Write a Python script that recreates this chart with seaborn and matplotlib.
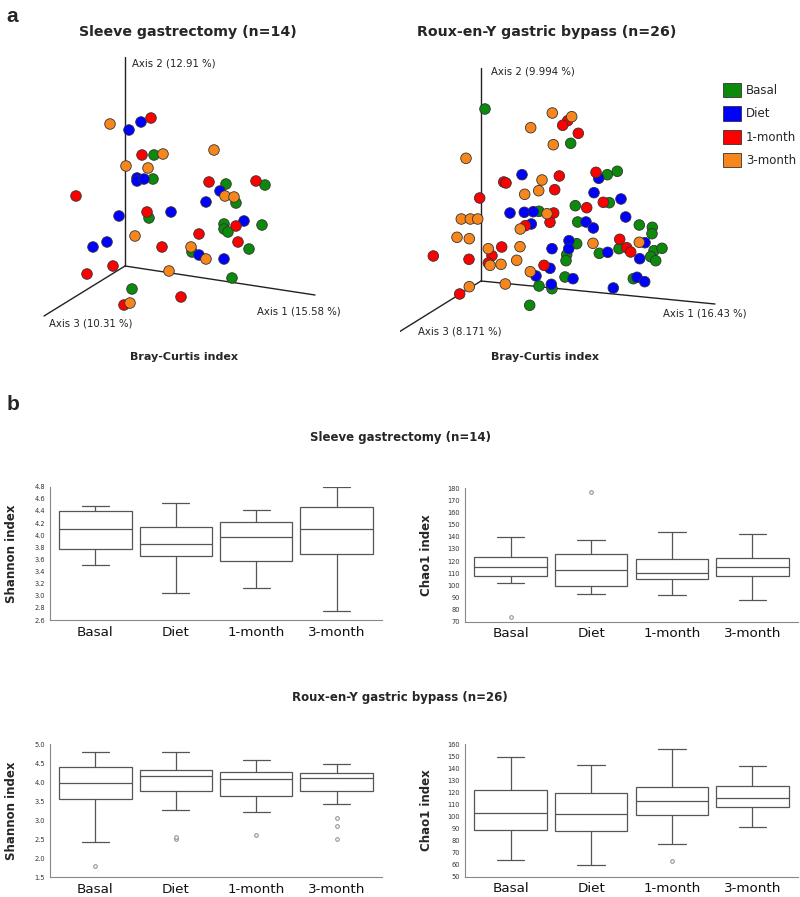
import pandas as pd
import seaborn as sns
import matplotlib.pyplot as plt
from matplotlib.patches import Patch

W, H = 800, 897

groups = ['Basal', 'Diet', '1-month', '3-month']
palette = ['#0b8a0b', '#0000ff', '#ff0000', '#f7871c']

# PCoA (Bray-Curtis), projected positions
sg_points = {
    'Basal': [(154, 155), (153, 179), (226, 184), (265, 185), (236, 203), (149, 218), (224, 224),
              (224, 229), (228, 232), (262, 225), (249, 249), (192, 252), (232, 278), (132, 289)],
    'Diet': [(129, 130), (141, 122), (137, 178), (137, 181), (144, 179), (220, 191), (206, 202),
             (119, 216), (171, 212), (244, 221), (107, 242), (93, 247), (199, 255), (224, 259)],
    '1-month': [(151, 118), (142, 155), (76, 196), (209, 182), (256, 181), (147, 212), (236, 226),
                (199, 234), (238, 242), (162, 247), (113, 266), (87, 274), (181, 297), (124, 305)],
    '3-month': [(110, 124), (163, 154), (214, 150), (126, 166), (148, 168), (225, 196), (234, 197),
                (135, 236), (191, 247), (206, 259), (169, 271), (130, 303)],
}
rygb_points = {
    'Basal': [(485.0, 109.0), (570.7, 143.3), (607.3, 174.7), (617.3, 171.3), (609.3, 202.7),
              (575.3, 205.7), (539.0, 211.3), (577.7, 222.0), (639.3, 225.0), (652.3, 227.3),
              (652.0, 233.7), (576.7, 243.7), (619.0, 248.7), (599.3, 253.3), (654.0, 250.7),
              (662.0, 248.3), (650.7, 256.7), (655.7, 260.7), (566.7, 254.7), (566.0, 260.7),
              (565.0, 277.0), (633.3, 278.7), (539.0, 286.0), (552.0, 288.7), (529.7, 305.3)],
    'Diet': [(522.0, 174.7), (598.7, 178.3), (594.0, 192.7), (621.0, 199.0), (510.0, 213.0),
             (524.3, 212.3), (533.3, 211.7), (625.7, 217.0), (586.0, 222.0), (531.3, 224.0),
             (593.3, 228.0), (645.0, 242.7), (569.0, 240.7), (552.0, 248.7), (568.7, 248.7),
             (607.7, 252.3), (639.7, 258.7), (550.0, 268.3), (536.0, 276.0), (573.0, 278.7),
             (637.0, 277.3), (644.7, 281.7), (551.3, 284.3), (613.3, 288.0)],
    '1-month': [(567.7, 120.7), (562.7, 125.3), (578.3, 133.3), (559.3, 176.0), (596.0, 172.3),
                (503.7, 182.0), (506.0, 183.0), (554.7, 189.7), (479.7, 198.0), (603.3, 202.3),
                (586.7, 207.7), (553.7, 213.0), (525.3, 225.7), (550.0, 222.3), (619.7, 239.3),
                (501.7, 247.0), (626.7, 247.7), (630.7, 252.0), (433.3, 256.0), (469.0, 259.3),
                (492.0, 255.7), (488.3, 263.0), (544.0, 265.3), (459.7, 294.0)],
    '3-month': [(552.3, 113.0), (571.7, 116.7), (530.7, 127.7), (553.3, 144.7), (466.0, 158.3),
                (542.0, 180.0), (538.7, 190.7), (524.7, 194.3), (547.0, 213.7), (461.3, 219.0),
                (470.3, 219.0), (477.7, 219.0), (520.3, 229.0), (457.0, 237.3), (469.3, 238.7),
                (639.3, 242.3), (593.0, 243.3), (488.3, 248.7), (520.0, 246.7), (490.0, 265.3),
                (501.0, 264.3), (516.7, 260.3), (530.3, 271.7), (469.3, 286.7), (505.3, 284.0)],
}
# 3D axis frame: origin, axis1 end, axis2 end, axis3 end
sg_frame = [(125, 266), (315, 295), (125, 57), (44, 316)]
rygb_frame = [(481, 281), (715, 304), (481, 68), (399, 332)]
sg_axis_labels = ['Axis 1 (15.58 %)', 'Axis 2 (12.91 %)', 'Axis 3 (10.31 %)']
rygb_axis_labels = ['Axis 1 (16.43 %)', 'Axis 2 (9.994 %)', 'Axis 3 (8.171 %)']

# box stats: whisker low, q1, median, q3, whisker high
sg_shannon = [[3.50, 3.78, 4.11, 4.40, 4.48], [3.04, 3.66, 3.85, 4.14, 4.53],
              [3.12, 3.58, 3.97, 4.21, 4.42], [2.75, 3.69, 4.10, 4.47, 4.80]]
sg_shannon_fliers = [[], [], [], []]
sg_chao1 = [[102, 108, 115.5, 123.5, 140], [93, 99.5, 112.5, 125.5, 137.5],
            [92, 105, 110, 121.5, 144], [87.5, 107.5, 115.5, 122.5, 142.5]]
sg_chao1_fliers = [[74], [177], [], []]
rygb_shannon = [[2.44, 3.55, 3.97, 4.40, 4.81], [3.28, 3.76, 4.17, 4.33, 4.81],
                [3.22, 3.64, 4.08, 4.26, 4.58], [3.43, 3.78, 4.11, 4.24, 4.48]]
rygb_shannon_fliers = [[1.80], [2.52, 2.56], [2.62], [3.06, 2.85, 2.50]]
rygb_chao1 = [[64, 89, 103, 121.5, 149], [59.5, 87.5, 102, 119, 142.5],
              [77, 101.5, 112.5, 124.5, 155.5], [91, 107.5, 115, 125.5, 141.5]]
rygb_chao1_fliers = [[], [], [63], []]


def px(x, y):
    return x / W, 1 - y / H


def to_frame(points):
    rows = []
    for g in groups:
        for x, y in points[g]:
            rows.append({'x': x, 'y': y, 'group': g})
    return pd.DataFrame(rows)


sns.set_theme(style='white')
plt.rcParams['font.family'] = ['DejaVu Sans']
fig = plt.figure(figsize=(W / 100, H / 100), dpi=100)


def pcoa_panel(rect, xlim, points, frame, labels, label_pos):
    ax = fig.add_axes(rect)
    ox, oy = frame[0]
    for ex, ey in frame[1:]:
        ax.plot([ox, ex], [oy, ey], color='#222222', lw=1.0, zorder=1)
    sns.scatterplot(data=to_frame(points), x='x', y='y', hue='group', hue_order=groups,
                    palette=palette, s=58, edgecolor='#333333', linewidth=0.6,
                    legend=False, ax=ax, zorder=3)
    for txt, (tx, ty) in zip(labels, label_pos):
        ax.text(tx, ty, txt, fontsize=7.3, color='#222222', ha='left', va='center')
    ax.set_xlim(*xlim)
    ax.set_ylim(345, 40)
    ax.axis('off')
    return ax


pcoa_panel([0, 1 - 345 / H, 0.5, 305 / H], (0, 400), sg_points, sg_frame,
           sg_axis_labels, [(257, 311), (132, 63), (49, 323)])
ax_r = pcoa_panel([0.5, 1 - 345 / H, 0.5, 305 / H], (400, 800), rygb_points, rygb_frame,
                  rygb_axis_labels, [(663, 314), (491, 72), (418, 331)])

handles = [Patch(facecolor=c, edgecolor='#333333', lw=0.6) for c in palette]
fig.legend(handles, groups, loc='upper left', bbox_to_anchor=px(723, 83), frameon=False,
           fontsize=8.5, handlelength=1.5, handleheight=1.5, labelspacing=0.75,
           handletextpad=0.45, borderpad=0, borderaxespad=0)

fig.text(*px(188, 32), 'Sleeve gastrectomy (n=14)', fontsize=10.2, fontweight='bold',
         ha='center', va='center')
fig.text(*px(547, 32), 'Roux-en-Y gastric bypass (n=26)', fontsize=10.2, fontweight='bold',
         ha='center', va='center')
fig.text(*px(184, 357), 'Bray-Curtis index', fontsize=8, fontweight='bold', ha='center', va='center')
fig.text(*px(545, 357), 'Bray-Curtis index', fontsize=8, fontweight='bold', ha='center', va='center')
fig.text(*px(12, 16), 'a', fontsize=15, fontweight='bold', ha='center', va='center',
         family='Liberation Sans')
fig.text(*px(13, 405), 'b', fontsize=15, fontweight='bold', ha='center', va='center',
         family='Liberation Sans')
fig.text(*px(400, 437), 'Sleeve gastrectomy (n=14)', fontsize=8.5, fontweight='bold',
         ha='center', va='center')
fig.text(*px(400, 697), 'Roux-en-Y gastric bypass (n=26)', fontsize=8.5, fontweight='bold',
         ha='center', va='center')


def box_panel(rect, stats, fliers, ylim, yticks, fmt, ylabel):
    ax = fig.add_axes(rect)
    bxp_stats = []
    for g, (lo, q1, med, q3, hi), fl in zip(groups, stats, fliers):
        bxp_stats.append({'label': g, 'whislo': lo, 'q1': q1, 'med': med, 'q3': q3,
                          'whishi': hi, 'fliers': fl})
    line = dict(color='#555555', lw=0.9)
    ax.bxp(bxp_stats, positions=range(len(groups)), widths=0.9, capwidths=0.34,
           patch_artist=True, manage_ticks=False,
           boxprops=dict(facecolor='white', edgecolor='#555555', lw=0.9),
           medianprops=line, whiskerprops=line, capprops=line,
           flierprops=dict(marker='o', markersize=2.6, markerfacecolor='white',
                           markeredgecolor='#888888', markeredgewidth=0.7))
    ax.set_xlim(-0.565, 3.565)
    ax.set_ylim(*ylim)
    ax.set_xticks(range(len(groups)))
    ax.set_xticklabels(groups)
    ax.set_yticks(yticks)
    ax.set_yticklabels([fmt.format(v) for v in yticks])
    ax.tick_params(axis='y', labelsize=4.8, length=2, width=0.6, color='#888888',
                   pad=1.5, labelcolor='#333333')
    ax.tick_params(axis='x', labelsize=9.7, length=2, width=0.6, color='#888888',
                   pad=2, labelcolor='#111111')
    sns.despine(ax=ax)
    for side in ['left', 'bottom']:
        ax.spines[side].set_color('#888888')
        ax.spines[side].set_linewidth(0.8)
    ax.set_ylabel(ylabel, fontsize=8.5, fontweight='bold')
    ax.yaxis.set_label_coords(-0.096, 0.5)
    ax.set_xlabel('')
    return ax


def frange(start, stop, step):
    n = int(round((stop - start) / step))
    return [round(start + i * step, 3) for i in range(n + 1)]


box_panel([50 / W, 1 - 620 / H, 332 / W, 133.3 / H], sg_shannon, sg_shannon_fliers,
          (2.6, 4.8), frange(2.6, 4.8, 0.2), '{:.1f}', 'Shannon index')
box_panel([465 / W, 1 - 621.7 / H, 333 / W, 133.4 / H], sg_chao1, sg_chao1_fliers,
          (70, 180), frange(70, 180, 10), '{:.0f}', 'Chao1 index')
box_panel([50 / W, 1 - 877.3 / H, 332 / W, 133 / H], rygb_shannon, rygb_shannon_fliers,
          (1.5, 5.0), frange(1.5, 5.0, 0.5), '{:.1f}', 'Shannon index')
box_panel([465 / W, 1 - 876.7 / H, 333 / W, 132.7 / H], rygb_chao1, rygb_chao1_fliers,
          (50, 160), frange(50, 160, 10), '{:.0f}', 'Chao1 index')

fig.savefig('out.png', dpi=100)
